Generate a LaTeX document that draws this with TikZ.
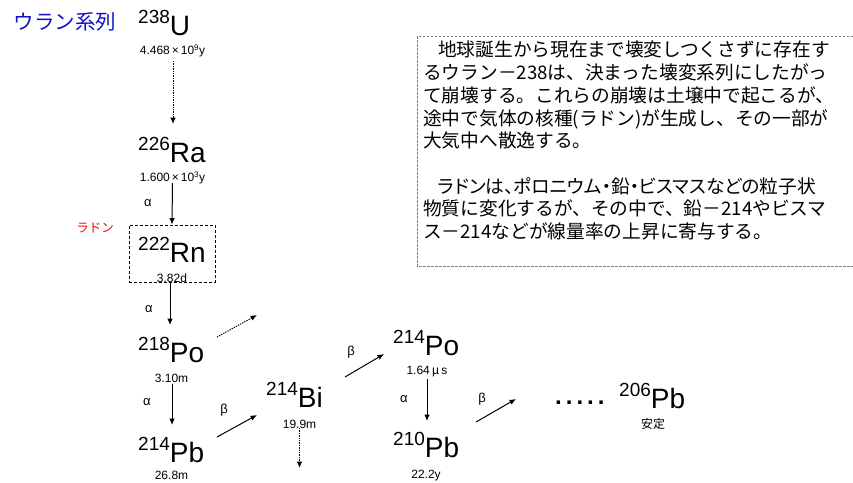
\documentclass[tikz,border=0pt]{standalone}
\usepackage{fontspec}
\setmainfont{Liberation Sans}
\newfontfamily\jp{Noto Sans CJK JP}
\newfontfamily\jpp[RawFeature=+palt]{Noto Sans CJK JP}
\usetikzlibrary{arrows.meta}
\definecolor{titleblue}{RGB}{16,16,204}
\newcommand\isotope[2]{\raisebox{11.5pt}{\fontsize{19}{19}\selectfont #1}\fontsize{28}{28}\selectfont #2}
\begin{document}
\begin{tikzpicture}[x=1pt,y=-1pt,
  iso/.style={anchor=base west, inner sep=0pt},
  hl/.style={inner sep=0pt, font=\fontsize{12}{12}\selectfont},
  lbl/.style={inner sep=0pt, font=\fontsize{13}{13}\selectfont},
  arr/.style={-{Latex[length=6.5pt,width=5.5pt]}, line width=1pt},
  dotarr/.style={arr, dash pattern=on 1.3pt off 1.1pt}]
\useasboundingbox (0,0) rectangle (853,482);
% title
\node[inner sep=0pt, text=titleblue, font=\jp\fontsize{20.5}{20.5}\selectfont] (title) at (65,22) {ウラン系列};
% isotopes
\node[iso] (u)     at (138,35)  {\isotope{238}{U}};
\node[iso] (ra)    at (138,162) {\isotope{226}{Ra}};
\node[iso] (rn)    at (138,262) {\isotope{222}{Rn}};
\node[iso] (po218) at (138,362) {\isotope{218}{Po}};
\node[iso] (pb214) at (138,462) {\isotope{214}{Pb}};
\node[iso] (bi)    at (266,407) {\isotope{214}{Bi}};
\node[iso] (po214) at (393,355) {\isotope{214}{Po}};
\node[iso] (pb210) at (393,457) {\isotope{210}{Pb}};
\node[iso] (pb206) at (619,408) {\isotope{206}{Pb}};
% half lives
\node[hl] (uhl)     at (172.5,51)  {4.468\,×\,10\textsuperscript{9}y};
\node[hl] (rahl)    at (172.5,178) {1.600\,×\,10\textsuperscript{3}y};
\node[hl] (rnhl)    at (172,278)   {3.82d};
\node[hl] (po218hl) at (171.5,378) {3.10m};
\node[hl] (pb214hl) at (171.5,475.5) {26.8m};
\node[hl] (bihl)    at (299.5,424) {19.9m};
\node[hl] (po214hl) at (427,372)   {1.64\,{\jp μ}\,s};
\node[hl] (pb210hl) at (426,475.5) {22.2y};
\node[hl, font=\jp\fontsize{12}{12}\selectfont] (stable) at (653,424) {安定};
% radon label and box
\node[inner sep=0pt, text=red, font=\jp\fontsize{12.5}{12.5}\selectfont] (radon) at (95,228) {ラドン};
\node[draw, dash pattern=on 3pt off 2pt, line width=0.8pt, minimum width=86pt, minimum height=57pt, inner sep=0pt] (rnbox) at (172,253.5) {};
% dots
\node[anchor=base west, inner sep=0pt, font=\bfseries\fontsize{24}{24}\selectfont] (dots) at (555,404) {.\hspace{4pt}.\hspace{4pt}.\hspace{4pt}.\hspace{4pt}.};
% arrows
\draw[dotarr] ([shift={(0.5,10)}]uhl.center) -- ([shift={(35,-38)}]ra.base west);
\draw[arr] ([shift={(0,5)}]rahl.center) -- (rnbox.north);
\draw[arr] ([xshift=-2pt]rnbox.south) -- ([shift={(32,-37)}]po218.base west);
\draw[dotarr] ([shift={(79,-25)}]po218.base west) -- ([shift={(119,-47)}]po218.base west);
\draw[arr] ([shift={(0.5,6)}]po218hl.center) -- ([shift={(34,-37)}]pb214.base west);
\draw[arr] ([shift={(79,-25)}]pb214.base west) -- ([shift={(-9,8)}]bi.base west);
\draw[dotarr] ([shift={(0,4)}]bihl.center) -- ([shift={(0,44)}]bihl.center);
\draw[arr] ([shift={(79,-30)}]bi.base west) -- ([shift={(-9,-1)}]po214.base west);
\draw[arr] ([shift={(0,7)}]po214hl.center) -- ([shift={(34,-36)}]pb210.base west);
\draw[arr] ([shift={(83,-35)}]pb210.base west) -- ([shift={(123,-58)}]pb210.base west);
% decay labels
\node[lbl] (a1) at (148,203) {α};
\node[lbl] (a2) at (149,309) {α};
\node[lbl] (a3) at (147,402) {α};
\node[lbl] (b1) at (224,410) {β};
\node[lbl] (b2) at (351,352) {β};
\node[lbl] (a4) at (404,399) {α};
\node[lbl] (b3) at (482,399) {β};
% note box
\draw[gray, dash pattern=on 2.5pt off 1.5pt, line width=0.8pt] (853,36) -- (417,36) -- (417,266) -- (853,266);
\node[anchor=north west, inner sep=0pt, align=left, font=\jp\fontsize{18.7}{22.7}\selectfont] (note) at (423,41)
{\hspace*{15pt}地球誕生から現在まで壊変しつくさずに存在す\\
るウラン－238は、決まった壊変系列にしたがっ\\
て崩壊する。これらの崩壊は土壌中で起こるが、\\
途中で気体の核種(ラドン)が生成し、その一部が\\
大気中へ散逸する。\\[22.7pt]
\hspace*{15pt}{\jpp ラドンは、ポロニウム・鉛・ビスマスなどの粒子状}\\
物質に変化するが、その中で、鉛－214やビスマ\\
ス－214などが線量率の上昇に寄与する。};
\end{tikzpicture}
\end{document}
